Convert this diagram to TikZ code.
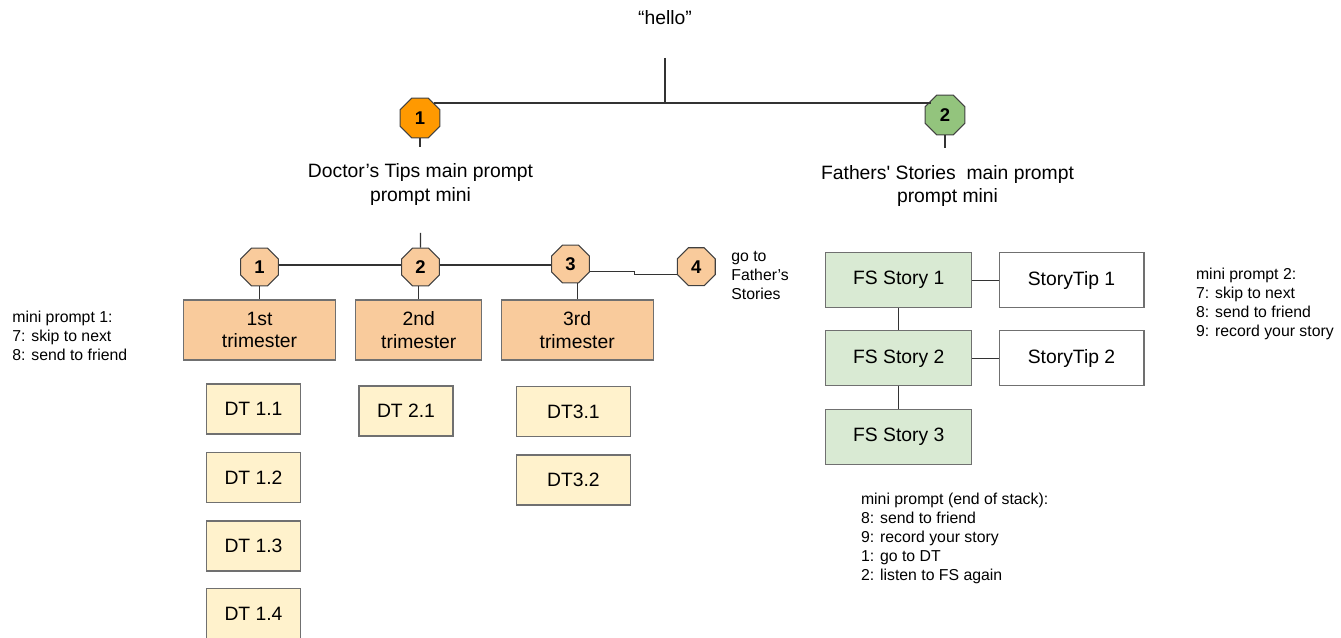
\documentclass[tikz,border=0pt]{standalone}
\usepackage{fontspec}
\setmainfont{Liberation Sans}
\usetikzlibrary{shapes.geometric}
\definecolor{peach}{HTML}{F9CB9C}
\definecolor{cream}{HTML}{FFF2CC}
\definecolor{mint}{HTML}{D9EAD3}
\definecolor{leaf}{HTML}{93C47D}
\definecolor{amber}{HTML}{FF9900}
\definecolor{edge}{HTML}{707070}
\begin{document}
\begin{tikzpicture}[x=0.02cm,y=-0.02cm]
 \tikzstyle{badge} = [regular polygon, regular polygon sides=8, draw=black!75, line width=0.6pt, inner sep=0pt, minimum size=0.82cm, font=\fontsize{10.5}{11}\selectfont\bfseries];
 \tikzstyle{tribox} = [draw=edge, line width=0.6pt, fill=peach, minimum width=3.04cm, minimum height=1.2cm, align=center, font=\fontsize{11}{13}\selectfont];
 \tikzstyle{dtbox} = [draw=edge, line width=0.6pt, fill=cream, minimum width=1.88cm, minimum height=1cm, font=\fontsize{11}{13}\selectfont];
 \tikzstyle{fsbox} = [draw=edge, line width=0.6pt, fill=mint, minimum width=2.92cm, minimum height=1.1cm, font=\fontsize{11}{13}\selectfont];
 \tikzstyle{tipbox} = [fsbox, fill=white, minimum width=2.9cm];
 \tikzstyle{note} = [inner sep=0pt, anchor=west, align=left, font=\fontsize{9}{10.8}\selectfont];
 \tikzstyle{title} = [inner sep=0pt, align=center, font=\fontsize{11}{13.5}\selectfont];
 \tikzstyle{link} = [draw=black!80, line width=0.6pt];
 \useasboundingbox (0,0) rectangle (1341,638);

\node [title] (hello) at (665,18) {“hello”};
\coordinate (top) at (665,58);
\coordinate (hub) at (665,103);
\node [badge, fill=amber, minimum size=0.86cm] (dt) at (420,118) {1};
\node [badge, fill=leaf, minimum size=0.86cm] (fs) at (945,115) {2};
\draw [link] (top) -- (hub);
\draw [link] (hub -| dt.north east) -- (hub -| fs.north west);

\node [title] (dtprompt) at (420.5,184.5) {Doctor’s Tips main prompt\\prompt mini};
\node [title] (fsprompt) at (947.5,186) {Fathers\textquotesingle{} Stories~ main prompt\\prompt mini};
\draw [link] (dt.south) -- ++(0,9);
\draw [link] (fs.south) -- ++(0,13);

% trimesters
\node [badge, fill=peach] (t1) at (259.5,267) {1};
\node [badge, fill=peach] (t2) at (420.5,267) {2};
\node [badge, fill=peach] (t3) at (570.5,264) {3};
\node [badge, fill=peach] (t4) at (696.3,266.7) {4};
\coordinate (tstub) at (420.5,233);
\draw [link] (tstub) -- (t2.north);
\draw [link] (t1.east |- 0,265) -- (t2.west |- 0,265);
\draw [link] (t2.east |- 0,265) -- (t3.west |- 0,265);
\draw [link] ([shift={(0,7.5)}]t3.east) -- ++(44.5,0) |- ([shift={(0,7.5)}]t4.west);
\node [note] (goto) at (731,275.5) {go to\\Father’s\\Stories};

\node [tribox] (b1) at (259.5,330) {1st\\trimester};
\node [tribox, minimum width=2.52cm] (b2) at (418.8,330) {2nd\\trimester};
\node [tribox] (b3) at (577.2,330) {3rd\\trimester};
\draw [link] (b1.north) -- (b1.north |- t1.south);
\draw [link] (b2.north) -- (b2.north |- t2.south);
\draw [link] (b3.north) -- (b3.north |- t3.south);

\node [dtbox] (d11) at (253.5,409) {DT 1.1};
\node [dtbox] (d12) at (253.5,477.5) {DT 1.2};
\node [dtbox] (d13) at (253.5,546) {DT 1.3};
\node [dtbox] (d14) at (253.5,613.5) {DT 1.4};
\node [dtbox] (d21) at (406,411) {DT 2.1};
\node [dtbox, minimum width=2.27cm] (d31) at (573.4,411.8) {DT3.1};
\node [dtbox, minimum width=2.27cm] (d32) at (573.4,480) {DT3.2};

\node [note] (mini1) at (12,336) {mini prompt 1:\\7: skip to next\\8: send to friend};

% fathers stories
\node [fsbox] (s1) at (898.8,280.2) {FS Story 1};
\node [fsbox] (s2) at (898.8,358.4) {FS Story 2};
\node [fsbox] (s3) at (898.8,436.8) {FS Story 3};
\node [tipbox] (tip1) at (1071.5,280.2) {StoryTip 1};
\node [tipbox] (tip2) at (1071.5,358.4) {StoryTip 2};
\draw [link] (s1) -- (tip1);
\draw [link] (s2) -- (tip2);
\draw [link] (s1) -- (s2);
\draw [link] (s2) -- (s3);

\node [note] (mini2) at (1195.7,303.5) {mini prompt 2:\\7: skip to next\\8: send to friend\\9: record your story};
\node [note] (endstack) at (860.7,538.7) {mini prompt (end of stack):\\8: send to friend\\9: record your story\\1: go to DT\\2: listen to FS again};

\end{tikzpicture}
\end{document}
